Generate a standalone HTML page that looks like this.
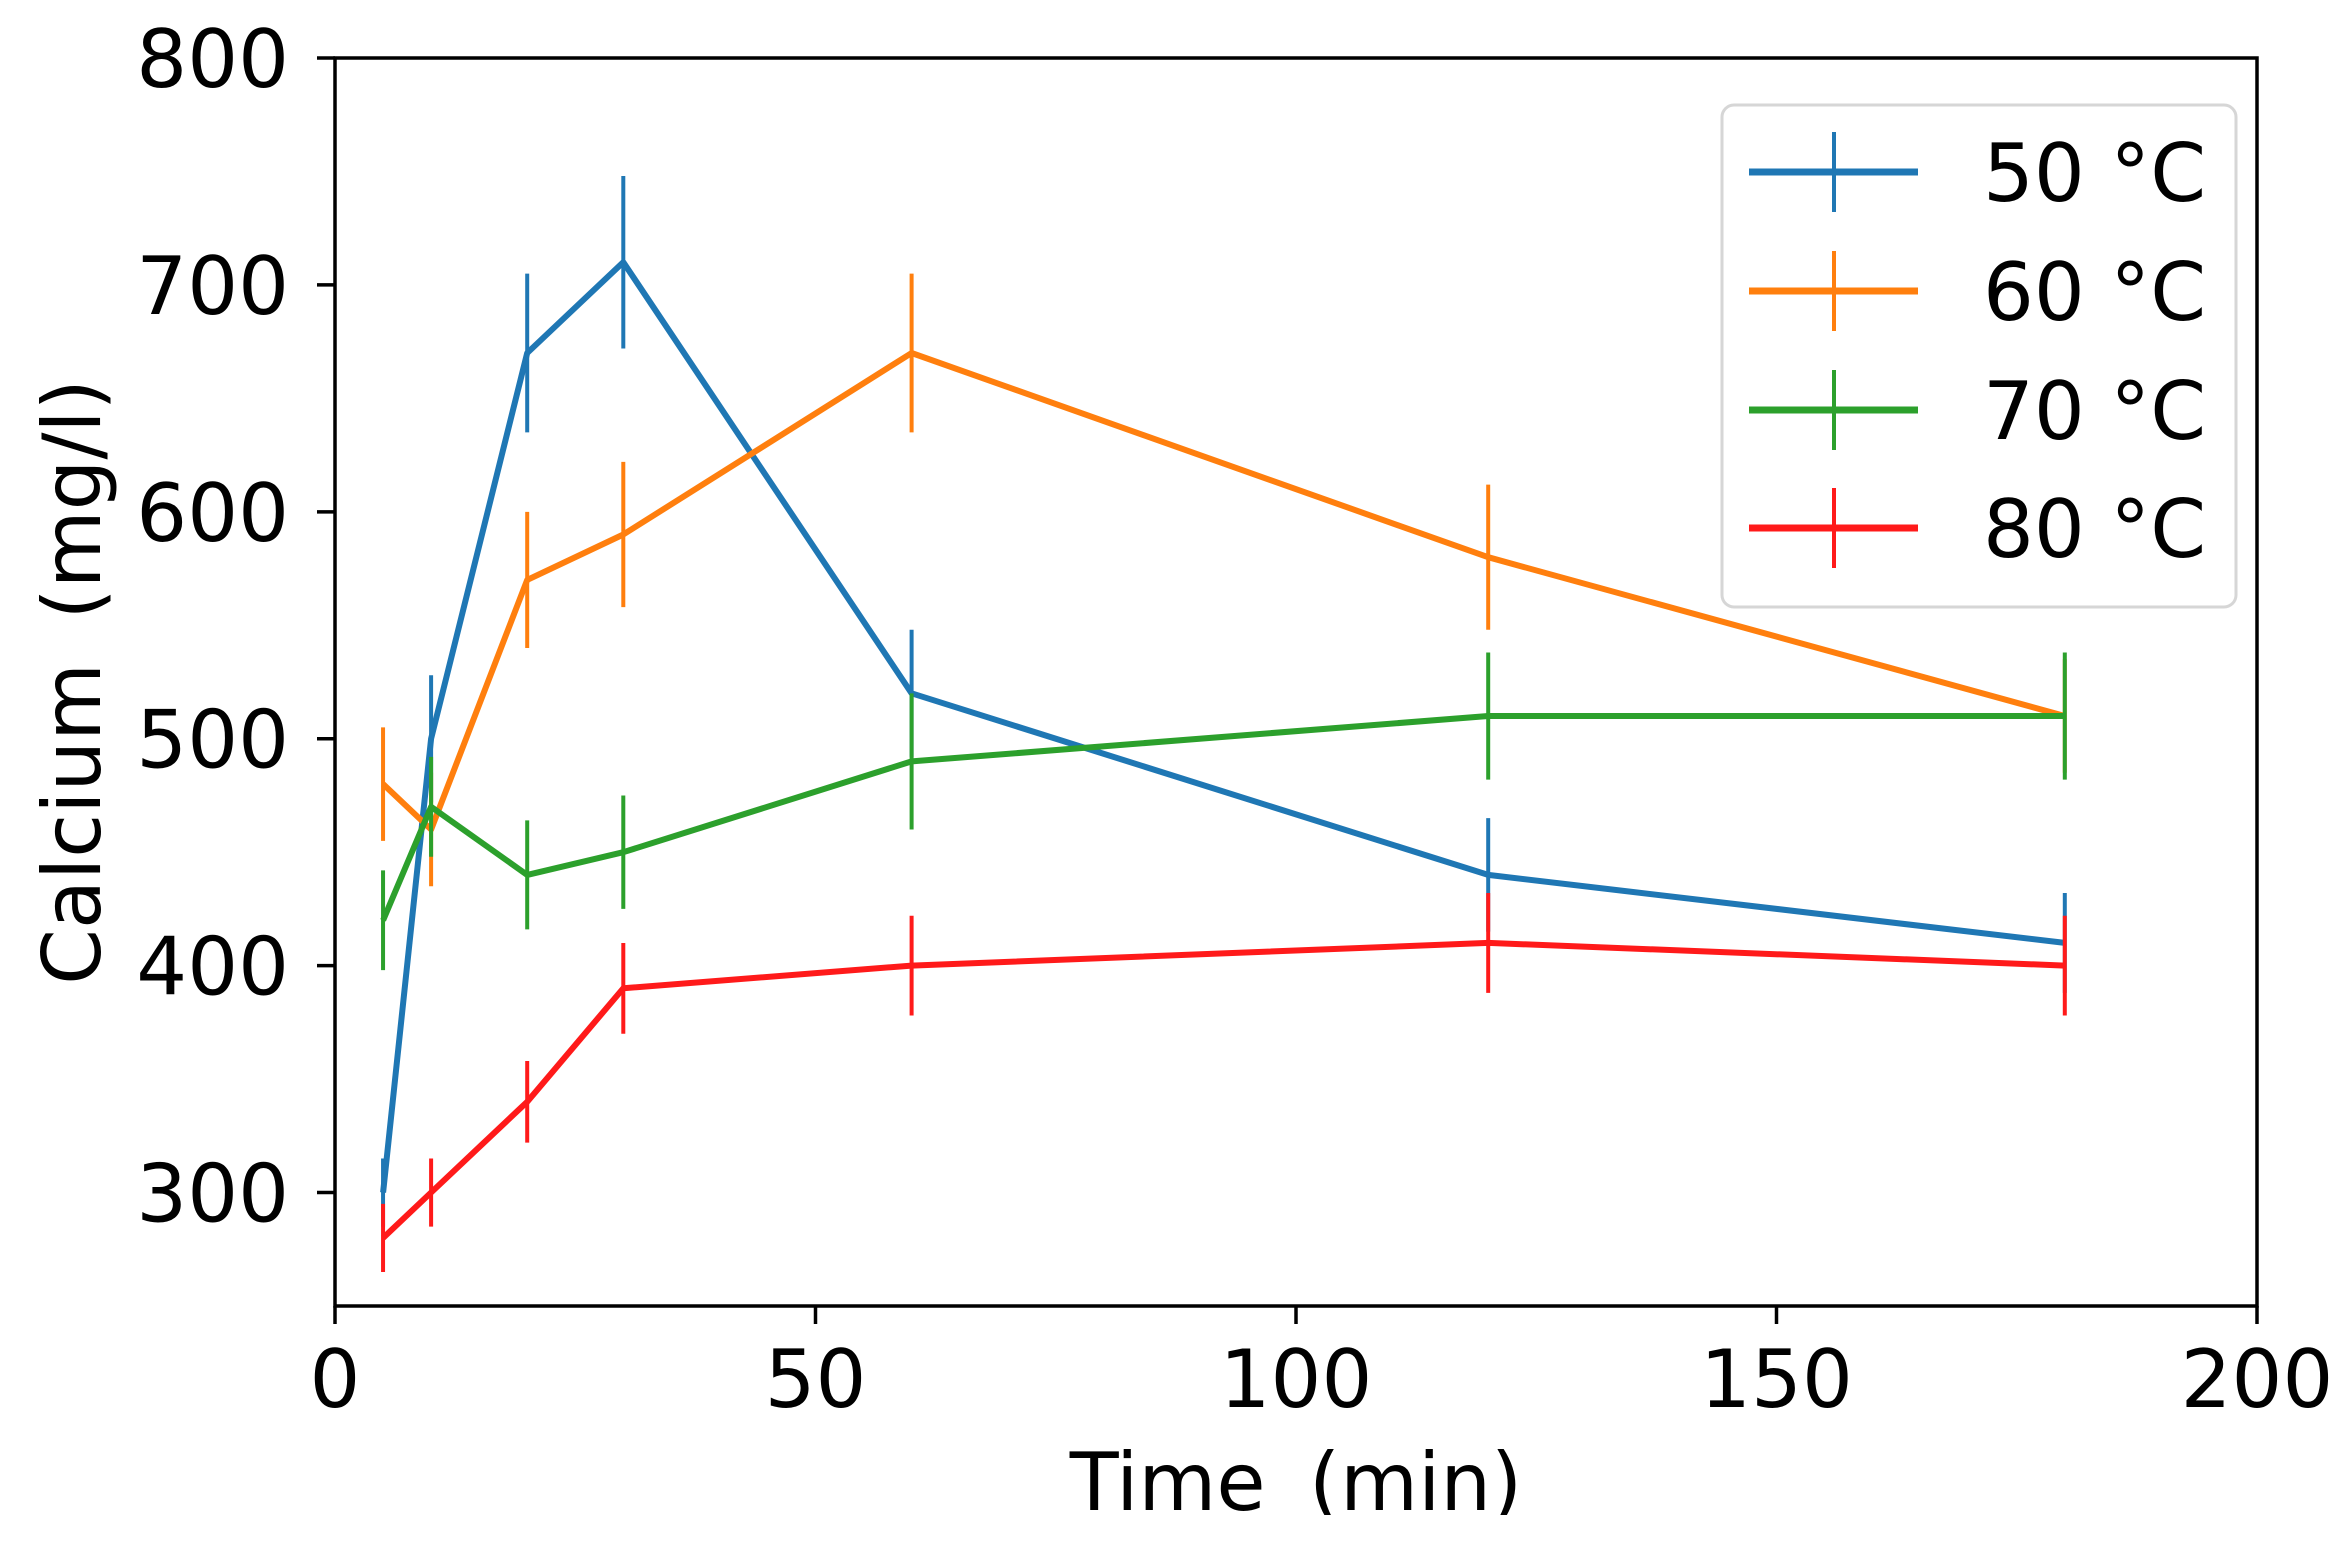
<!DOCTYPE html>
<html><head><meta charset="utf-8"><style>
html,body{margin:0;padding:0;background:#fff;}
svg{display:block;font-family:"DejaVu Sans","Liberation Sans",sans-serif;}
</style></head><body>
<svg id="chart" width="2338" height="1541" viewBox="0 0 2338 1541" xmlns="http://www.w3.org/2000/svg">
<g id="plot"></g>
</svg>
<script>
const xValues = [5, 10, 20, 30, 60, 120, 180];
const s50 = [300, 500, 670, 710, 520, 440, 410];
const e50 = [15, 28, 35, 38, 28, 25, 22];
const s60 = [480, 460, 570, 590, 670, 580, 510];
const e60 = [25, 25, 30, 32, 35, 32, 25];
const s70 = [420, 470, 440, 450, 490, 510, 510];
const e70 = [22, 22, 24, 25, 30, 28, 28];
const s80 = [280, 300, 340, 390, 400, 410, 400];
const e80 = [15, 15, 18, 20, 22, 22, 22];
const seriesNames = ["50 °C", "60 °C", "70 °C", "80 °C"];
const xTicks = [0, 50, 100, 150, 200];
const yTicks = [300, 400, 500, 600, 700, 800];

const L = 335, R = 2257, T = 58, B = 1306;
const xMin = 0, xMax = 200, yMin = 250, yMax = 800;
const xs = v => L + (v - xMin) / (xMax - xMin) * (R - L);
const ys = v => B - (v - yMin) / (yMax - yMin) * (B - T);
const NS = "http://www.w3.org/2000/svg";
const g = document.getElementById('plot');
function mk(tag, attrs, parent) {
  const el = document.createElementNS(NS, tag);
  for (const k in attrs) el.setAttribute(k, attrs[k]);
  (parent || g).appendChild(el);
  return el;
}
const colors = ["#1f77b4", "#ff7f0e", "#2ca02c", "#ff1a1a"];
const allS = [s50, s60, s70, s80];
const allE = [e50, e60, e70, e80];

allS.forEach((s, i) => {
  const sg = mk('g', {});
  
  
  const pts = s.map((v, j) => xs(xValues[j]).toFixed(1) + ',' + ys(v).toFixed(1)).join(' ');
  const pl = mk('polyline', {points: pts, fill: 'none', stroke: colors[i], 'stroke-width': 6, 'stroke-linejoin': 'round'}, sg);
  
  
  s.forEach((v, j) => {
    const x = xs(xValues[j]);
    const eb = mk('line', {x1: x, x2: x, y1: ys(v - allE[i][j]), y2: ys(v + allE[i][j]), stroke: colors[i], 'stroke-width': 4}, sg);
    
    
  });
});

const fr = mk('rect', {x: L, y: T, width: R - L, height: B - T, fill: 'none', stroke: '#000', 'stroke-width': 3.5});



xTicks.forEach(t => {
  const x = xs(t);
  const tk = mk('line', {x1: x, x2: x, y1: B, y2: B + 18, stroke: '#000', 'stroke-width': 3.5});
  
  
  const tx = mk('text', {x: x, y: 1407, 'text-anchor': 'middle', 'font-size': 80, fill: '#000'});
  tx.textContent = t;
  
  
});
yTicks.forEach(t => {
  const y = ys(t);
  const tk = mk('line', {x1: L - 18, x2: L, y1: y, y2: y, stroke: '#000', 'stroke-width': 3.5});
  
  
  const tx = mk('text', {x: 289, y: y + 29, 'text-anchor': 'end', 'font-size': 80, fill: '#000'});
  tx.textContent = t;
  
  
});

const xl = mk('text', {x: 1296, y: 1510, 'text-anchor': 'middle', 'font-size': 80, 'word-spacing': 18, fill: '#000'});
xl.textContent = 'Time (min)';


const cover = mk('rect', {x: 0, y: 1515, width: 2338, height: 30, fill: '#fff'});


const yl = mk('text', {x: 0, y: 0, 'text-anchor': 'middle', 'font-size': 80, 'word-spacing': 18, fill: '#000', transform: 'translate(100,682) rotate(-90)'});
yl.textContent = 'Calcium (mg/l)';



const lg = mk('g', {});


const lb = mk('rect', {x: 1722, y: 105, width: 514, height: 502, rx: 12, fill: '#fff', 'fill-opacity': 0.8, stroke: '#d6d6d6', 'stroke-width': 3}, lg);


const ly = [172, 291, 410, 528];
seriesNames.forEach((n, i) => {
  const eg = mk('g', {}, lg);
  
  
  mk('line', {x1: 1749, x2: 1918, y1: ly[i], y2: ly[i], stroke: colors[i], 'stroke-width': 7}, eg);
  mk('line', {x1: 1834, x2: 1834, y1: ly[i] - 40, y2: ly[i] + 40, stroke: colors[i], 'stroke-width': 4}, eg);
  const t = mk('text', {x: 1983, y: ly[i] + 29, 'font-size': 80, fill: '#000'}, eg);
  t.textContent = n;
});
</script>
</body></html>
